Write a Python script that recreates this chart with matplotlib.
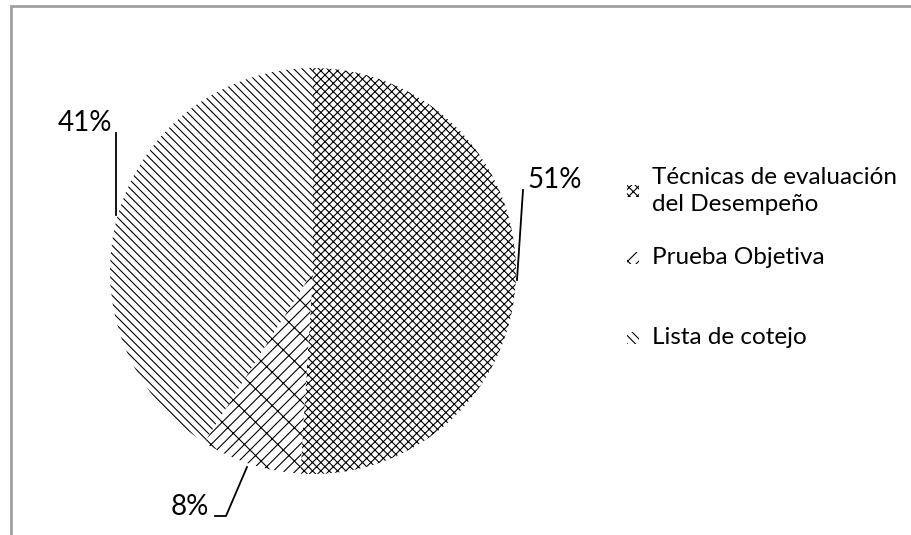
import matplotlib
matplotlib.use('Agg')
import matplotlib.pyplot as plt
from matplotlib.patches import Rectangle

# Datos
categorias = ['Técnicas de evaluación\ndel Desempeño', 'Prueba Objetiva', 'Lista de cotejo']
valores = [51, 8, 41]
etiquetas = [f'{v}%' for v in valores]
tramas = ['xxxx', '///\\', '\\\\\\\\']

plt.rcParams['font.family'] = ['Lato', 'DejaVu Sans']
plt.rcParams['hatch.linewidth'] = 0.8
plt.rcParams['hatch.color'] = 'black'

W, H = 911, 535
fig = plt.figure(figsize=(W / 100, H / 100), dpi=100)
ax = fig.add_axes([0, 0, 1, 1])

def py(y):
    # coordenada de pixel (desde arriba) a coordenada de datos
    return H - y

# Pastel
wedges, _ = ax.pie(valores, startangle=90, counterclock=False,
                   center=(313, py(271)), radius=203,
                   colors=['white'] * 3,
                   wedgeprops=dict(linewidth=0, edgecolor='black'))
for w, t in zip(wedges, tramas):
    w.set_hatch(t)

ax.set_xlim(0, W)
ax.set_ylim(0, H)
ax.set_aspect('auto')
ax.axis('off')

# Etiquetas con lineas guia
fs_pct = 20
ax.text(527, py(180), etiquetas[0], fontsize=fs_pct, ha='left', va='center')
ax.plot([523, 517], [py(190), py(280)], color='black', lw=1.3)

ax.text(112, py(123), etiquetas[2], fontsize=fs_pct, ha='right', va='center')
ax.plot([116, 116], [py(133), py(215)], color='black', lw=1.3)

ax.text(209, py(507), etiquetas[1], fontsize=fs_pct, ha='right', va='center')
ax.plot([215, 226, 247], [py(516), py(516), py(467)], color='black', lw=1.3)

# Leyenda
leg_y = [191, 258, 338]
for cat, t, y in zip(categorias, tramas, leg_y):
    ax.add_patch(Rectangle((627, py(y) - 6), 12, 12, facecolor='white',
                           edgecolor='black', lw=0, hatch=t))
    ax.text(652, py(y), cat, fontsize=17.5, ha='left', va='center',
            linespacing=1.35)

# Borde del grafico
fig.patches.append(Rectangle((11, -10), 1000, py(6) + 10, transform=None,
                             fill=False, edgecolor='#a0a0a0', lw=2))

fig.savefig('out.png', dpi=100)
